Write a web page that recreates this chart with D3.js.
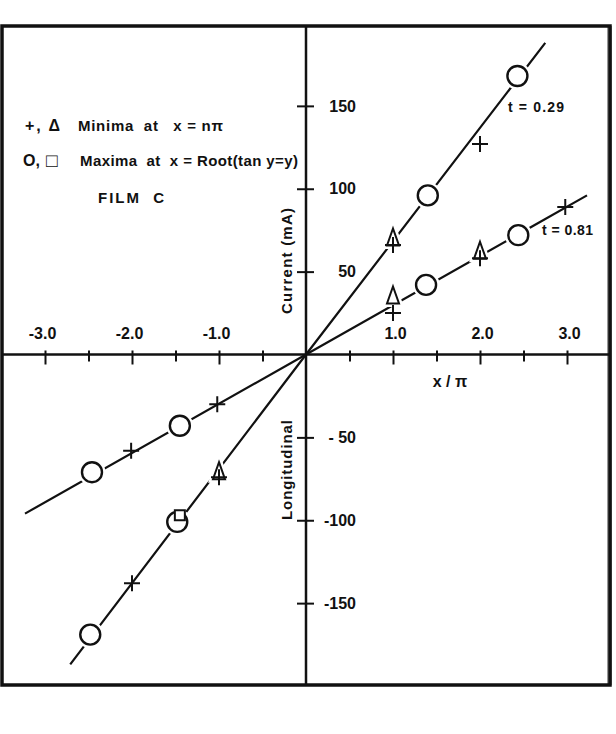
<!DOCTYPE html>
<html>
<head>
<meta charset="utf-8">
<script src="https://cdn.jsdelivr.net/npm/d3@7"></script>
<style>
  body { margin: 0; background: #fff; }
  svg { display: block; }
  text { font-family: "Liberation Sans", Arial, sans-serif; fill: #111; font-weight: bold; white-space: pre; }
</style>
</head>
<body>
<div class="container"></div>
<script>
// data: [x/pi, current mA]
const steepPlus = [[1.0, 66], [2.0, 127], [-1.0, -74], [-2.0, -138]];
const steepTri = [[1.0, 70], [-1.0, -71]];
const steepCircle = [[1.40, 96], [2.43, 168], [-1.48, -101], [-2.48, -169]];
const steepSquare = [[-1.45, -97]];
const shallowPlus = [[1.0, 25], [2.0, 58], [2.98, 89], [-1.02, -30], [-2.01, -58]];
const shallowTri = [[1.0, 35], [2.0, 62]];
const shallowCircle = [[1.38, 42], [2.44, 72], [-1.45, -43], [-2.46, -71]];
// fitted lines through the origin
const steepLine = [[-2.71, -187], [0, 0], [2.75, 188]];
const shallowLine = [[-3.23, -96], [0, 0], [3.23, 96]];

const xTicks = [-3, -2.5, -2, -1.5, -1, -0.5, 0.5, 1, 1.5, 2, 2.5, 3];
const yTicks = [-150, -100, -50, 50, 100, 150];
const yTickLabels = { "150": "150", "100": "100", "50": "50", "-50": "- 50", "-100": "-100", "-150": "-150" };

const W = 616, H = 734;
const frame = { left: 2, top: 26, right: 610, bottom: 685 };

const svg = d3
  .select(".container")
  .append("svg")
  .attr("width", W)
  .attr("height", H);

svg.append("rect").attr("width", W).attr("height", H).attr("fill", "#fff");

const x = d3.scaleLinear().domain([-3.5, 3.5]).range([1.5, 610.5]);
const y = d3.scaleLinear().domain([-200, 200]).range([686, 23]);

// scan shadow along the right edge
svg.append("rect")
  .attr("x", frame.right - 3).attr("y", frame.top)
  .attr("width", 5).attr("height", frame.bottom - frame.top)
  .attr("fill", "#999");

// frame
svg
  .append("rect")
  .attr("x", frame.left)
  .attr("y", frame.top)
  .attr("width", frame.right - frame.left)
  .attr("height", frame.bottom - frame.top)
  .attr("fill", "none")
  .attr("stroke", "#111")
  .attr("stroke-width", 3.5);

// main axes lines
svg.append("line")
  .attr("x1", frame.left).attr("x2", frame.right)
  .attr("y1", y(0)).attr("y2", y(0))
  .attr("stroke", "#111").attr("stroke-width", 2.5);
svg.append("line")
  .attr("x1", x(0)).attr("x2", x(0))
  .attr("y1", frame.top).attr("y2", frame.bottom)
  .attr("stroke", "#111").attr("stroke-width", 2.5);

// x axis ticks
const xAxis = svg
  .append("g")
  .attr("transform", `translate(0, ${y(0)})`)
  .call(d3.axisBottom(x).tickValues(xTicks).tickSize(0).tickFormat((d) => Number.isInteger(d) ? d.toFixed(1) : ""));
xAxis.select(".domain").remove();
xAxis.selectAll(".tick line")
  .attr("y1", -4)
  .attr("y2", (d) => Number.isInteger(d) ? 10 : 7)
  .attr("stroke", "#111")
  .attr("stroke-width", 2);
xAxis.selectAll(".tick text")
  .attr("y", -16)
  .attr("dy", 0)
  .attr("dx", (d) => d < 0 ? -3 : 2)
  .style("font-size", "16px")
  .style("fill", "#111")
  .style("font-weight", "bold")
  .style("font-family", "Liberation Sans, Arial, sans-serif");

// y axis ticks
const yAxis = svg
  .append("g")
  .attr("transform", `translate(${x(0)}, 0)`)
  .call(d3.axisRight(y).tickValues(yTicks).tickSize(0).tickFormat((d) => yTickLabels[d]));
yAxis.select(".domain").remove();
yAxis.selectAll(".tick line")
  .attr("x1", -9)
  .attr("x2", 8)
  .attr("stroke", "#111")
  .attr("stroke-width", 2);
yAxis.selectAll(".tick text")
  .attr("x", 50)
  .attr("text-anchor", "end")
  .style("font-size", "16px")
  .style("fill", "#111")
  .style("font-weight", "bold")
  .style("font-family", "Liberation Sans, Arial, sans-serif");

// fitted lines
const line = d3.line().x((d) => x(d[0])).y((d) => y(d[1]));
[steepLine, shallowLine].forEach((l) => {
  svg.append("path")
    .attr("d", line(l))
    .attr("fill", "none")
    .attr("stroke", "#111")
    .attr("stroke-width", 2.2);
});

// markers: white halo first so the lines break around them
const drawMarkers = (data, shape, halo) => {
  const g = svg.append("g");
  const paths = {
    circle: "M10,0A10,10 0 1,1 -10,0A10,10 0 1,1 10,0Z",
    tri: "M0,-10L6,7L-6,7Z",
    square: "M-5,-5H5V5H-5Z",
    plus: "M-8,0H8M0,-8V8"
  };
  if (halo) {
    g.selectAll(".halo")
      .data(data)
      .join("path")
      .attr("transform", (d) => `translate(${x(d[0])},${y(d[1])})`)
      .attr("d", paths[shape])
      .attr("fill", "#fff")
      .attr("stroke", "#fff")
      .attr("stroke-width", 7);
  }
  g.selectAll(".mark")
    .data(data)
    .join("path")
    .attr("transform", (d) => `translate(${x(d[0])},${y(d[1])})`)
    .attr("d", paths[shape])
    .attr("fill", shape === "plus" ? "none" : "#fff")
    .attr("stroke", "#111")
    .attr("stroke-width", shape === "circle" ? 2.4 : 2);
};

drawMarkers(steepCircle, "circle", true);
drawMarkers(shallowCircle, "circle", true);
drawMarkers(steepTri, "tri", true);
drawMarkers(shallowTri, "tri", true);
drawMarkers(steepSquare, "square", false);
drawMarkers(steepPlus, "plus", false);
drawMarkers(shallowPlus, "plus", false);

// labels
const label = (txt, lx, ly, size, opts = {}) => {
  const t = svg.append("text")
    .attr("x", lx)
    .attr("y", ly)
    .style("font-size", size + "px")
    .text(txt);
  if (opts.anchor) t.attr("text-anchor", opts.anchor);
  if (opts.rotate) t.attr("transform", `rotate(-90, ${lx}, ${ly})`);
  if (opts.weight) t.style("font-weight", opts.weight);
  if (opts.len) t.attr("textLength", opts.len).attr("lengthAdjust", "spacing");
  return t;
};

label("+, Δ", 25, 131, 16, { len: 35 });
label("Minima  at   x = nπ", 78, 131, 15, { len: 145 });
label("O,", 23, 166, 16);
label("□", 46, 167, 19);
label("Maxima  at  x = Root(tan y=y)", 80, 166, 15, { len: 218 });
label("FILM  C", 98, 203, 15, { len: 66 });
label("t = 0.29", 508, 112, 14, { len: 56 });
label("t = 0.81", 542, 235, 14, { len: 51 });
label("x / π", 450, 387, 16, { anchor: "middle" });
label("Current (mA)", 292, 261, 15, { anchor: "middle", rotate: true, len: 106 });
label("Longitudinal", 292, 470, 15, { anchor: "middle", rotate: true, len: 100 });
</script>
</body>
</html>
